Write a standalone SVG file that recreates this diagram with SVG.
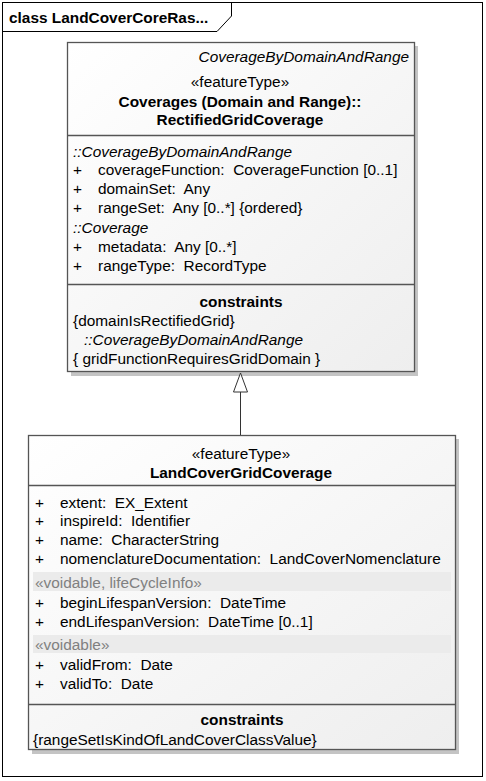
<svg xmlns="http://www.w3.org/2000/svg" width="486" height="781" viewBox="0 0 486 781" xml:space="preserve">
<defs>
<linearGradient id="g2" x1="0" y1="0" x2="1" y2="1">
<stop offset="0" stop-color="#ffffff"/>
<stop offset="1" stop-color="#eeeeee"/>
</linearGradient>
<style>
text{font-family:"Liberation Sans",Arial,sans-serif;font-size:15.4px;fill:#000;dominant-baseline:central;white-space:pre}
.b{font-weight:bold}
.i{font-style:italic}
.c{text-anchor:middle}
.r{text-anchor:end}
.grey{fill:#808080}
.box{fill:url(#g2);stroke:#555;stroke-width:1.3}
.shadow{fill:#c4c4c4}
.sep{stroke:#555;stroke-width:1.3}
.band{fill:#ebebeb}
.frame{fill:#fff;stroke:#000;stroke-width:1}
</style>
</defs>
<rect width="486" height="781" fill="#fff"/>
<g id="frame">
<rect class="frame" x="2.5" y="2.5" width="480" height="774"/>
<path d="M2.5 31.5 H217 L231.5 16 V2.5" fill="none" stroke="#000" stroke-width="1"/>
<text class="b" x="9" y="17">class LandCoverCoreRas...</text>
</g>
<g id="RectifiedGridCoverage">
<rect class="shadow" x="71" y="46" width="347" height="330"/>
<rect class="box" x="67.5" y="42.5" width="347" height="329"/>
<line class="sep" x1="67.5" y1="135.5" x2="414.5" y2="135.5"/>
<line class="sep" x1="67.5" y1="284.5" x2="414.5" y2="284.5"/>
<text class="i r" x="409" y="56">CoverageByDomainAndRange</text>
<text class="c" x="240" y="81">«featureType»</text>
<text class="b c" x="240" y="101">Coverages (Domain and Range)::</text>
<text class="b c" x="240" y="119">RectifiedGridCoverage</text>
<text class="i" x="73" y="151">::CoverageByDomainAndRange</text>
<text x="73" y="169">+</text><text x="98" y="169">coverageFunction:  CoverageFunction [0..1]</text>
<text x="73" y="188">+</text><text x="98" y="188">domainSet:  Any</text>
<text x="73" y="207">+</text><text x="98" y="207">rangeSet:  Any [0..*] {ordered}</text>
<text class="i" x="73" y="227">::Coverage</text>
<text x="73" y="246">+</text><text x="98" y="246">metadata:  Any [0..*]</text>
<text x="73" y="265">+</text><text x="98" y="265">rangeType:  RecordType</text>
<text class="b c" x="241" y="301">constraints</text>
<text x="73" y="320">{domainIsRectifiedGrid}</text>
<text class="i" x="84" y="339">::CoverageByDomainAndRange</text>
<text x="73" y="358">{ gridFunctionRequiresGridDomain }</text>
</g>
<g id="LandCoverGridCoverage">
<rect class="shadow" x="32" y="439" width="427" height="315"/>
<rect class="box" x="28.5" y="435.5" width="427" height="314"/>
<line class="sep" x1="28.5" y1="485.5" x2="455.5" y2="485.5"/>
<line class="sep" x1="28.5" y1="704.5" x2="455.5" y2="704.5"/>
<text class="c" x="241" y="453">«featureType»</text>
<text class="b c" x="241" y="472">LandCoverGridCoverage</text>
<text x="35" y="502">+</text><text x="60" y="502">extent:  EX_Extent</text>
<text x="35" y="520">+</text><text x="60" y="520">inspireId:  Identifier</text>
<text x="35" y="539">+</text><text x="60" y="539">name:  CharacterString</text>
<text x="35" y="558">+</text><text x="60" y="558">nomenclatureDocumentation:  LandCoverNomenclature</text>
<rect class="band" x="33" y="572" width="418" height="19"/>
<text class="grey" x="35" y="582">«voidable, lifeCycleInfo»</text>
<text x="35" y="602">+</text><text x="60" y="602">beginLifespanVersion:  DateTime</text>
<text x="35" y="621">+</text><text x="60" y="621">endLifespanVersion:  DateTime [0..1]</text>
<rect class="band" x="33" y="635" width="418" height="18"/>
<text class="grey" x="35" y="644">«voidable»</text>
<text x="35" y="664">+</text><text x="60" y="664">validFrom:  Date</text>
<text x="35" y="683">+</text><text x="60" y="683">validTo:  Date</text>
<text class="b c" x="242" y="719">constraints</text>
<text x="33" y="739">{rangeSetIsKindOfLandCoverClassValue}</text>
</g>
<g id="connectors">
<line x1="240.5" y1="392" x2="240.5" y2="435" stroke="#333" stroke-width="1"/>
<polygon points="240.5,373 233.5,392 247.5,392" fill="#fff" stroke="#333" stroke-width="1"/>
</g>
</svg>
